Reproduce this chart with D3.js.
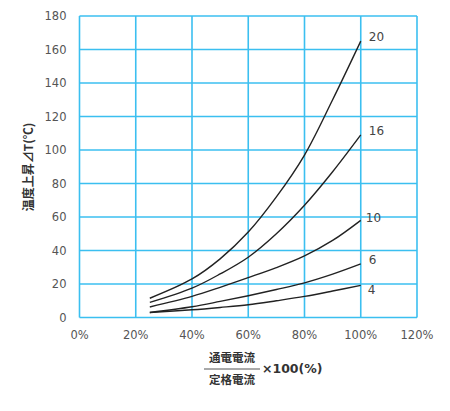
<!DOCTYPE html>
<html>
<head>
<meta charset="utf-8">
<script src="https://cdn.jsdelivr.net/npm/d3@7"></script>
<style>
  body { margin: 0; background: #fff; }
  svg { display: block; }
</style>
</head>
<body>
<svg id="chart" width="450" height="411"></svg>
<script>
// chart data
const xPoints = [25, 40, 50, 60, 70, 80, 90, 100];
const series20 = [11.5, 23, 35, 51, 72, 97, 130, 165];
const series16 = [9, 17.5, 26, 36, 50, 67, 87, 109];
const series10 = [6.3, 12.6, 18, 23.8, 29.8, 36.8, 46, 58];
const series6 = [3, 6.4, 9.6, 13, 16.7, 20.7, 25.9, 32];
const series4 = [3, 4.6, 6, 7.6, 10, 12.6, 15.8, 19.2];
const seriesNames = ["20", "16", "10", "6", "4"];
const xTicks = [0, 20, 40, 60, 80, 100, 120];
const yTicks = [0, 20, 40, 60, 80, 100, 120, 140, 160, 180];

const GRID = "#3bbff0";
const TICK_FONT = "'DejaVu Sans', Verdana, sans-serif";
const JP_FONT = "'Noto Sans CJK JP', sans-serif";

let svg = d3.select("#chart");

let x = d3.scaleLinear().domain([0, 120]).range([79.5, 417]);
let y = d3.scaleLinear().domain([0, 180]).range([317.5, 16]);

// grid lines
svg.append("g").selectAll("line.v").data(xTicks).enter()
    .append("line")
    .attr("x1", d => x(d)).attr("x2", d => x(d))
    .attr("y1", y(0)).attr("y2", y(180))
    .attr("stroke", GRID).attr("stroke-width", 1.6);
svg.append("g").selectAll("line.h").data(yTicks).enter()
    .append("line")
    .attr("x1", x(0)).attr("x2", x(120))
    .attr("y1", d => y(d)).attr("y2", d => y(d))
    .attr("stroke", GRID).attr("stroke-width", 1.6);

// tick labels
svg.append("g").selectAll("text").data(yTicks).enter()
    .append("text")
    .attr("x", x(0) - 13)
    .attr("y", d => y(d) + 4)
    .attr("text-anchor", "end")
    .style("font-family", TICK_FONT)
    .style("font-size", "11.5px")
    .attr("fill", "#555")
    .text(d => d);
svg.append("g").selectAll("text").data(xTicks).enter()
    .append("text")
    .attr("x", d => x(d))
    .attr("y", y(0) + 21)
    .attr("text-anchor", "middle")
    .style("font-family", TICK_FONT)
    .style("font-size", "11.5px")
    .attr("fill", "#555")
    .text(d => d + "%");

// curves
let allSeries = [series20, series16, series10, series6, series4];
let line = d3.line()
    .x((d, i) => x(xPoints[i]))
    .y(d => y(d))
    .curve(d3.curveCatmullRom.alpha(0.5));

svg.append("g").selectAll("path").data(allSeries).enter()
    .append("path")
    .attr("d", d => line(d))
    .attr("fill", "none")
    .attr("stroke", "#222")
    .attr("stroke-width", 1.4);

// end labels
const labelDx = [8, 8, 5, 8, 7];
svg.append("g").selectAll("text").data(allSeries).enter()
    .append("text")
    .attr("x", (d, i) => x(100) + labelDx[i])
    .attr("y", (d, i) => y(d[d.length - 1]) + (i === 4 ? 9 : i === 2 ? 2 : 0))
    .style("font-family", TICK_FONT)
    .style("font-size", "12px")
    .attr("fill", "#444")
    .text((d, i) => seriesNames[i]);

// y axis title
svg.append("text")
    .attr("transform", "translate(33, 167) rotate(-90)")
    .attr("text-anchor", "middle")
    .style("font-family", JP_FONT)
    .style("font-size", "12px")
    .style("font-weight", "bold")
    .attr("fill", "#333")
    .text("温度上昇⊿T(℃)");

// x axis title as a fraction
let xt = svg.append("g");
xt.append("text")
    .attr("x", 232).attr("y", 362)
    .attr("text-anchor", "middle")
    .style("font-family", JP_FONT)
    .style("font-size", "11.5px")
    .style("font-weight", "bold")
    .attr("fill", "#333")
    .text("通電電流");
xt.append("line")
    .attr("x1", 204).attr("x2", 260)
    .attr("y1", 369).attr("y2", 369)
    .attr("stroke", "#555").attr("stroke-width", 1);
xt.append("text")
    .attr("x", 232).attr("y", 384)
    .attr("text-anchor", "middle")
    .style("font-family", JP_FONT)
    .style("font-size", "11.5px")
    .style("font-weight", "bold")
    .attr("fill", "#333")
    .text("定格電流");
xt.append("text")
    .attr("x", 262).attr("y", 373)
    .style("font-family", TICK_FONT)
    .style("font-size", "12.5px")
    .style("font-weight", "bold")
    .attr("fill", "#333")
    .text("×100(%)");
</script>
</body>
</html>
